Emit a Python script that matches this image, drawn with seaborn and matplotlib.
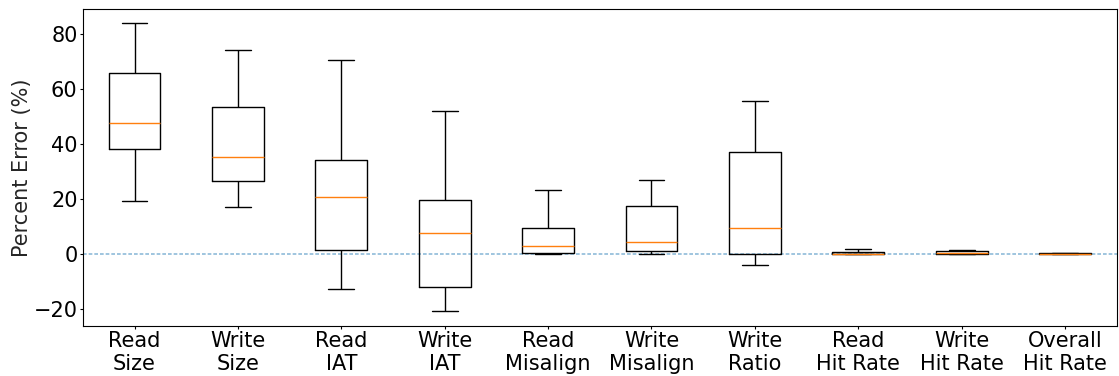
import numpy as np
import pandas as pd
import matplotlib
matplotlib.use("Agg")
import matplotlib.pyplot as plt
import seaborn as sns

# Error metrics shown on the x axis
categories = [
    "Read\nSize", "Write\nSize", "Read\nIAT", "Write\nIAT", "Read\nMisalign",
    "Write\nMisalign", "Write\nRatio", "Read\nHit Rate", "Write\nHit Rate",
    "Overall\nHit Rate",
]

# Five-number summaries of the percent error per metric
err_min = [19.2, 17.1, -12.5, -20.7, 0.1, 0.0, -4.0, 0.0, 0.0, 0.0]
err_q1 = [38.3, 26.5, 1.45, -11.8, 0.5, 1.1, 0.0, 0.0, 0.0, 0.0]
err_median = [47.7, 35.1, 20.6, 7.7, 3.0, 4.5, 9.65, 0.2, 0.3, 0.2]
err_q3 = [65.6, 53.5, 34.0, 19.5, 9.65, 17.4, 37.0, 0.85, 1.2, 0.4]
err_max = [83.7, 73.9, 70.4, 51.8, 23.3, 27.0, 55.7, 1.95, 1.5, 0.6]

# Long-form table: one row per summary value
rows = []
for i, cat in enumerate(categories):
    for v in (err_min[i], err_q1[i], err_median[i], err_q3[i], err_max[i]):
        rows.append({"metric": cat, "error": v})
df = pd.DataFrame(rows)

sns.set_style("ticks")
plt.rcParams["font.family"] = ["DejaVu Sans"]

fig, ax = plt.subplots(figsize=(11.19, 3.76), dpi=100)
fig.subplots_adjust(left=0.074, right=0.998, top=0.976, bottom=0.133)

sns.boxplot(
    data=df, x="metric", y="error", order=categories, ax=ax,
    whis=(0, 100), width=0.5, fill=False, color="black", linewidth=1.0,
    medianprops={"color": "#ff7f0e", "linewidth": 1.0},
    showfliers=False,
)

ax.axhline(0, color="#1f77b4", alpha=0.5, linewidth=1.2,
           linestyle=(0, (2.2, 1.2)), zorder=0)

ax.set_xlim(-0.5, len(categories) - 0.5)
ax.set_ylim(-26.0, 88.9)
ax.set_yticks([-20, 0, 20, 40, 60, 80])
ax.set_xlabel("")
ax.set_ylabel("Percent Error (%)", fontsize=15, labelpad=1)
ax.tick_params(axis="both", labelsize=15, length=2.0, width=0.8,
               pad=1.8, color="black", labelcolor="black")
for lbl in ax.get_xticklabels():
    lbl.set_linespacing(1.15)
for s in ax.spines.values():
    s.set_visible(True)
    s.set_color("black")
    s.set_linewidth(0.8)

fig.savefig("out.png", dpi=100)
